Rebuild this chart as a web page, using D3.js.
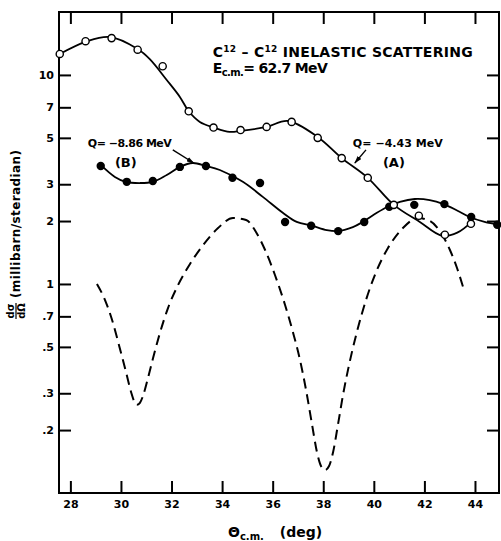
<!DOCTYPE html>
<html>
<head>
<meta charset="utf-8">
<script src="https://cdn.jsdelivr.net/npm/d3@7"></script>
<style>
body{margin:0;background:#fff;}
svg{display:block;font-family:"DejaVu Sans",sans-serif;font-weight:bold;}
</style>
</head>
<body>
<svg id="chart" width="501" height="541"></svg>
<script>
// measured points, Q = -4.43 MeV (A), open circles
var openTheta = [27.58, 28.6, 29.63, 30.66, 31.65, 32.68, 33.66, 34.73, 35.76, 36.75, 37.78, 38.73, 39.76, 40.79, 41.78, 42.81, 43.84];
var openSigma = [12.6, 14.5, 15.0, 13.2, 11.0, 6.7, 5.6, 5.45, 5.64, 5.96, 5.0, 4.0, 3.22, 2.39, 2.12, 1.72, 1.94];

// measured points, Q = -8.86 MeV (B), filled circles
var filledTheta = [29.2, 30.23, 31.26, 32.33, 33.36, 34.41, 35.5, 36.49, 37.52, 38.59, 39.62, 40.61, 41.6, 42.79, 43.85, 44.88];
var filledSigma = [3.67, 3.08, 3.11, 3.63, 3.67, 3.22, 3.04, 1.98, 1.90, 1.79, 1.98, 2.34, 2.39, 2.41, 2.09, 1.92];

// hand drawn solid line through (A)
var curveATheta = [27.58, 28.6, 29.55, 30.66, 31.14, 31.81, 32.33, 32.68, 33.12, 33.68, 34.3, 34.74, 35.76, 36.6, 37.78, 38.73, 39.76, 40.79, 41.82, 42.7, 43.3, 43.9];
var curveASigma = [12.6, 14.4, 15.2, 13.3, 11.9, 9.46, 7.85, 6.7, 5.96, 5.6, 5.34, 5.4, 5.64, 6.02, 5.05, 4.0, 3.22, 2.39, 1.98, 1.70, 1.76, 2.0];

// hand drawn solid line through (B)
var curveBTheta = [29.2, 29.76, 30.19, 30.74, 31.26, 31.81, 32.33, 32.84, 33.36, 33.91, 34.82, 35.61, 36.4, 36.95, 37.55, 38.14, 38.57, 39.17, 39.56, 40.12, 40.55, 41.03, 41.62, 42.21, 42.76, 43.31, 43.79, 44.38, 44.94];
var curveBSigma = [3.71, 3.25, 3.08, 3.04, 3.08, 3.32, 3.63, 3.79, 3.67, 3.51, 3.08, 2.61, 2.19, 1.98, 1.90, 1.81, 1.79, 1.87, 1.98, 2.19, 2.34, 2.47, 2.55, 2.52, 2.41, 2.24, 2.09, 1.98, 1.92];

// dashed curve
var dashTheta = [29.05, 29.37, 29.65, 29.92, 30.20, 30.40, 30.52, 30.63, 30.75, 30.87, 31.07, 31.27, 31.54, 31.86, 32.26, 32.73, 33.25, 33.84, 34.43,
    34.95, 35.34, 35.70, 36.09, 36.49, 36.80, 37.08, 37.32, 37.56, 37.75, 37.91, 38.07, 38.23, 38.39, 38.58, 38.78,
    39.02, 39.33, 39.69, 40.09, 40.56, 41.15, 41.75, 42.22, 42.66, 43.01, 43.29, 43.53];
var dashSigma = [1.0, 0.838, 0.672, 0.511, 0.379, 0.304, 0.275, 0.264, 0.270, 0.291, 0.355, 0.442, 0.582, 0.767, 0.989, 1.246, 1.536, 1.852, 2.068,
    2.023, 1.773, 1.454, 1.104, 0.793, 0.589, 0.433, 0.311, 0.2115, 0.157, 0.1346, 0.1288, 0.1346, 0.157, 0.2115, 0.294,
    0.410, 0.589, 0.838, 1.141, 1.486, 1.852, 2.068, 2.001, 1.753, 1.454, 1.192, 0.967];

var xTicks = [28, 30, 32, 34, 36, 38, 40, 42, 44];
var yTicks = [0.2, 0.3, 0.5, 0.7, 1, 2, 3, 5, 7, 10];
var yTickLabels = [".2", ".3", ".5", ".7", "1", "2", "3", "5", "7", "10"];

var svg = d3.select("#chart");
var margin = {top: 12, left: 59, right: 2, bottom: 48};
var width = 501 - margin.left - margin.right,
    height = 541 - margin.top - margin.bottom;

var x = d3.scaleLinear()
    .domain([27.55, 44.95])
    .range([margin.left, margin.left + width]);

var y = d3.scaleLog()
    .domain([0.1, 20])
    .range([margin.top + height, margin.top]);

function zip(a, b) {
    return a.map(function(d, i) { return [d, b[i]]; });
}

var line = d3.line()
    .x(function(d) { return x(d[0]); })
    .y(function(d) { return y(d[1]); })
    .curve(d3.curveCatmullRom.alpha(0.5));

var dashLine = d3.line()
    .x(function(d) { return x(d[0]); })
    .y(function(d) { return y(d[1]); })
    .curve(d3.curveMonotoneX);

// frame
svg.append("rect")
    .attr("x", margin.left)
    .attr("y", margin.top)
    .attr("width", width)
    .attr("height", height)
    .attr("fill", "none")
    .attr("stroke", "#000")
    .attr("stroke-width", 2);

// ticks, all pointing inward
var tickLen = 12;
svg.append("g")
    .attr("transform", "translate(0," + (margin.top + height) + ")")
    .call(d3.axisBottom(x).tickValues(xTicks).tickSize(-tickLen).tickPadding(7).tickFormat(d3.format("d")))
    .call(function(g) { g.select(".domain").remove(); });

svg.append("g")
    .attr("transform", "translate(0," + margin.top + ")")
    .call(d3.axisTop(x).tickValues(xTicks).tickSize(-tickLen).tickFormat(""))
    .call(function(g) { g.select(".domain").remove(); });

svg.append("g")
    .attr("transform", "translate(" + margin.left + ",0)")
    .call(d3.axisLeft(y).tickValues(yTicks).tickSize(-tickLen).tickPadding(5)
        .tickFormat(function(d, i) { return yTickLabels[i]; }))
    .call(function(g) { g.select(".domain").remove(); });

svg.append("g")
    .attr("transform", "translate(" + (margin.left + width) + ",0)")
    .call(d3.axisRight(y).tickValues(yTicks).tickSize(-tickLen).tickFormat(""))
    .call(function(g) { g.select(".domain").remove(); });

svg.selectAll(".tick line").attr("stroke", "#000").attr("stroke-width", 2);
svg.selectAll(".tick text")
    .attr("fill", "#000")
    .style("font-family", "DejaVu Sans, sans-serif")
    .style("font-weight", "bold")
    .style("font-size", "11px");

// curves
svg.append("path")
    .datum(zip(dashTheta, dashSigma))
    .attr("d", dashLine)
    .attr("fill", "none")
    .attr("stroke", "#000")
    .attr("stroke-width", 2)
    .attr("stroke-dasharray", "10,6");

svg.append("path")
    .datum(zip(curveATheta, curveASigma))
    .attr("d", line)
    .attr("fill", "none")
    .attr("stroke", "#000")
    .attr("stroke-width", 1.8);

svg.append("path")
    .datum(zip(curveBTheta, curveBSigma))
    .attr("d", line)
    .attr("fill", "none")
    .attr("stroke", "#000")
    .attr("stroke-width", 1.8);

// points
svg.append("g").selectAll("circle")
    .data(zip(filledTheta, filledSigma))
    .enter().append("circle")
    .attr("cx", function(d) { return x(d[0]); })
    .attr("cy", function(d) { return y(d[1]); })
    .attr("r", 4.2)
    .attr("fill", "#000");

svg.append("g").selectAll("circle")
    .data(zip(openTheta, openSigma))
    .enter().append("circle")
    .attr("cx", function(d) { return x(d[0]); })
    .attr("cy", function(d) { return y(d[1]); })
    .attr("r", 3.6)
    .attr("fill", "#fff")
    .attr("stroke", "#000")
    .attr("stroke-width", 1.4);

// title
var t1 = svg.append("text")
    .attr("x", x(33.63))
    .attr("y", y(12.2))
    .attr("font-size", 14)
    .attr("textLength", 260)
    .attr("lengthAdjust", "spacing");
t1.append("tspan").text("C");
t1.append("tspan").attr("dy", -5).attr("font-size", 9).text("12");
t1.append("tspan").attr("dy", 5).text(" \u2013 C");
t1.append("tspan").attr("dy", -5).attr("font-size", 9).text("12");
t1.append("tspan").attr("dy", 5).text(" INELASTIC SCATTERING");

var t2 = svg.append("text")
    .attr("x", x(33.63))
    .attr("y", y(10.2))
    .attr("font-size", 14)
    .attr("textLength", 115)
    .attr("lengthAdjust", "spacing");
t2.append("tspan").text("E");
t2.append("tspan").attr("dy", 3).attr("font-size", 10).text("c.m.");
t2.append("tspan").attr("dy", -3).text("= 62.7 MeV");

// annotations
svg.append("defs").append("marker")
    .attr("id", "arrow")
    .attr("viewBox", "0 0 10 6")
    .attr("refX", 9)
    .attr("refY", 3)
    .attr("markerWidth", 8)
    .attr("markerHeight", 5)
    .attr("markerUnits", "userSpaceOnUse")
    .attr("orient", "auto")
    .append("path")
    .attr("d", "M0,0L10,3L0,6Z")
    .attr("fill", "#000");

svg.append("text")
    .attr("x", x(28.69)).attr("y", y(4.53))
    .attr("font-size", 11)
    .attr("textLength", 84).attr("lengthAdjust", "spacing")
    .text("Q= \u22128.86 MeV");
svg.append("text")
    .attr("x", x(29.76)).attr("y", y(3.63))
    .attr("font-size", 13)
    .text("(B)");
svg.append("line")
    .attr("x1", x(32.05)).attr("y1", y(4.38))
    .attr("x2", x(32.88)).attr("y2", y(3.79))
    .attr("stroke", "#000").attr("stroke-width", 1.4)
    .attr("marker-end", "url(#arrow)");

svg.append("text")
    .attr("x", x(39.17)).attr("y", y(4.53))
    .attr("font-size", 11)
    .attr("textLength", 90).attr("lengthAdjust", "spacing")
    .text("Q= \u22124.43 MeV");
svg.append("text")
    .attr("x", x(40.36)).attr("y", y(3.63))
    .attr("font-size", 13)
    .text("(A)");
svg.append("line")
    .attr("x1", x(39.69)).attr("y1", y(4.38))
    .attr("x2", x(39.25)).attr("y2", y(3.79))
    .attr("stroke", "#000").attr("stroke-width", 1.4)
    .attr("marker-end", "url(#arrow)");

// x axis title
var xl = svg.append("text")
    .attr("x", 228)
    .attr("y", 537)
    .attr("font-size", 14);
xl.append("tspan").text("\u0398");
xl.append("tspan").attr("dy", 3).attr("font-size", 10).text("c.m.");
xl.append("tspan").attr("dy", -3).attr("dx", 16).text("(deg)");

// y axis title, rotated
var yl = svg.append("g")
    .attr("transform", "translate(16,319) rotate(-90)");
yl.append("text").attr("x", 8).attr("y", -2).attr("font-size", 10).attr("text-anchor", "middle").text("d\u03c3");
yl.append("line").attr("x1", 0).attr("x2", 16).attr("y1", 0).attr("y2", 0).attr("stroke", "#000").attr("stroke-width", 1.2);
yl.append("text").attr("x", 8).attr("y", 9).attr("font-size", 10).attr("text-anchor", "middle").text("d\u03a9");
yl.append("text")
    .attr("x", 21).attr("y", 4)
    .attr("font-size", 12)
    .attr("textLength", 148).attr("lengthAdjust", "spacing")
    .text("(millibarn/steradian)");
</script>
</body>
</html>
